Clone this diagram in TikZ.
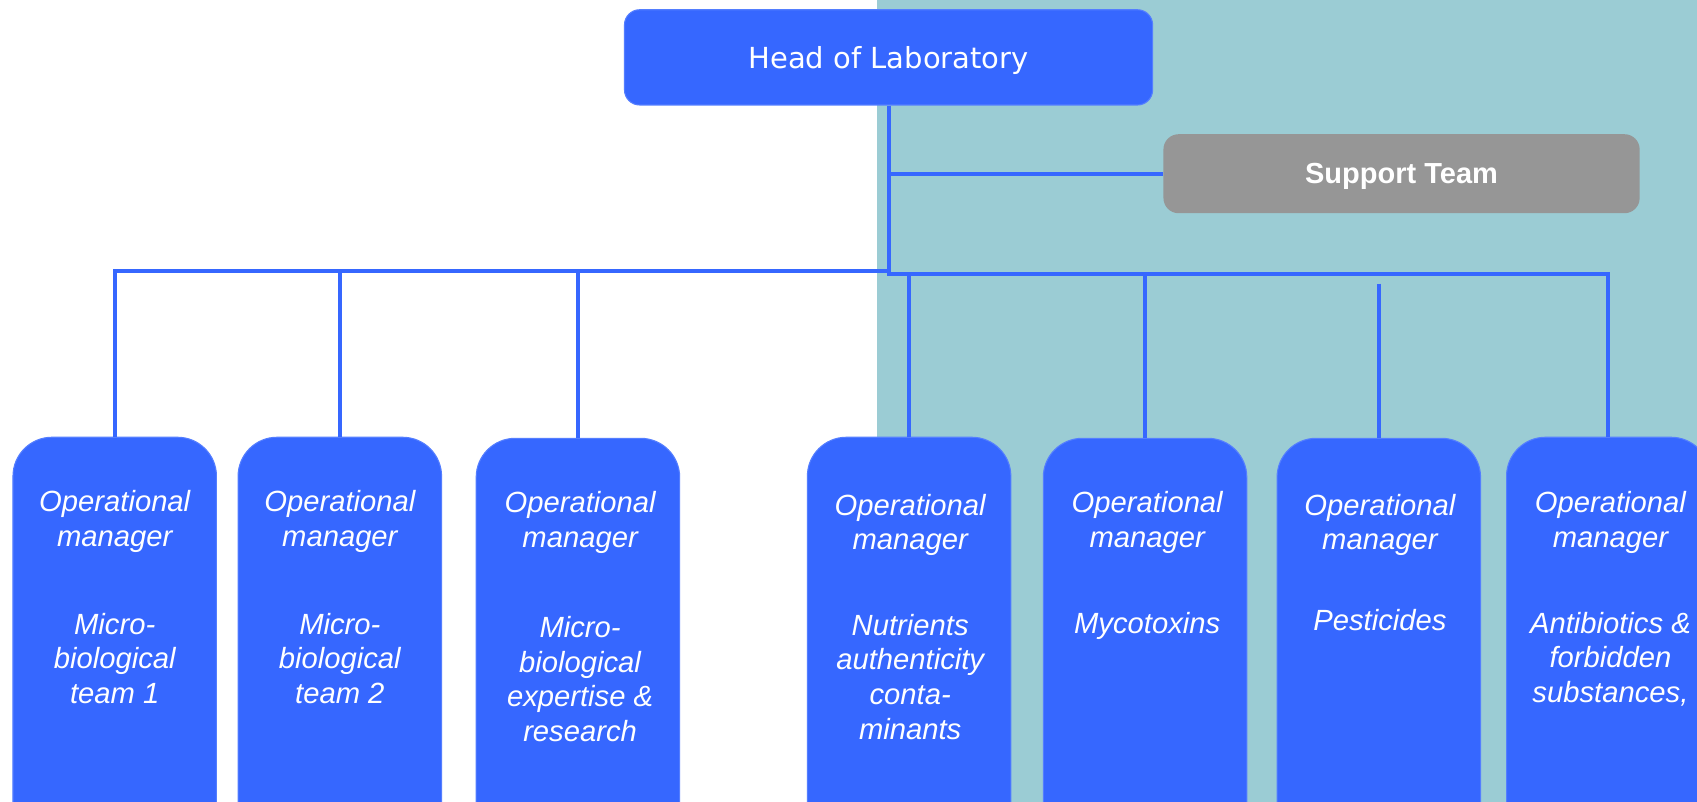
\documentclass[tikz,border=0pt]{standalone}
\usepackage{fontspec}
\setmainfont{Liberation Sans}
\newfontfamily\headfont{DejaVu Sans}
\definecolor{labblue}{RGB}{54,103,255}
\definecolor{labteal}{RGB}{155,204,212}
\definecolor{labgray}{RGB}{150,150,150}
\begin{document}
\begin{tikzpicture}[x=0.5pt,y=-0.5pt,
  conn/.style={draw=labblue,line width=1.9pt},
  headbox/.style={fill=labblue,draw=labblue!85!white,line width=0.5pt,rounded corners=7pt,
    minimum width=244pt,minimum height=44pt,text=white,inner sep=0pt,text depth=0pt,
    font=\headfont\fontsize{13.4}{16}\selectfont},
  supbox/.style={fill=labgray,rounded corners=7pt,minimum width=220pt,minimum height=36.5pt,
    text=white,inner sep=0pt,text depth=0pt,font=\bfseries\fontsize{13.4}{16}\selectfont},
  unitbox/.style={fill=labblue,draw=labblue!85!white,line width=0.5pt,rounded corners=18pt,
    minimum width=94pt,minimum height=188pt,inner sep=0pt},
  unittext/.style={text=white,font=\itshape\fontsize{13.5}{16}\selectfont,align=center,
    anchor=north,inner sep=0pt}]
\useasboundingbox (0,0) rectangle (1568,741);
\clip (0,0) rectangle (1568,741);
\fill[white] (0,0) rectangle (810,741);
\fill[labteal] (810,0) rectangle (1568,741);

% boxes
\node[headbox] (head) at (821,53) {Head of Laboratory};
\node[supbox] (sup) at (1295,160.5) {Support Team};
\node[unitbox] (b1) at (106,592) {};
\node[unitbox] (b2) at (314,592) {};
\node[unitbox] (b3) at (534,593) {};
\node[unitbox] (b4) at (840,592) {};
\node[unitbox] (b5) at (1058,593) {};
\node[unitbox] (b6) at (1274,593) {};
\node[unitbox] (b7) at (1486,592) {};

% connectors
\coordinate (j) at (821,250);
\coordinate (jr) at (821,253);
\coordinate (p6) at (1274,262);
\draw[conn] (head.south) -- (j);
\draw[conn] (head.south |- sup.west) -- (sup.west);
\draw[conn] (j) -- (b1.north |- j) -- (b1.north);
\draw[conn] (b2.north |- j) -- (b2.north);
\draw[conn] (b3.north |- j) -- (b3.north);
\draw[conn] (j) -- (jr) -- (b7.north |- jr) -- (b7.north);
\draw[conn] (b4.north |- jr) -- (b4.north);
\draw[conn] (b5.north |- jr) -- (b5.north);
\draw[conn] (p6) -- (b6.north);

% texts
\node[unittext] (t1) at (106,453) {Operational\\manager\\[24.5pt]Micro-\\biological\\team 1};
\node[unittext] (t2) at (314,453) {Operational\\manager\\[24.5pt]Micro-\\biological\\team 2};
\node[unittext] (t3) at (536,454) {Operational\\manager\\[25.5pt]Micro-\\biological\\expertise \&\\research};
\node[unittext] (t4) at (841,456) {Operational\\manager\\[23.5pt]Nutrients\\authenticity\\conta-\\minants};
\node[unittext] (t5) at (1060,454) {Operational\\manager\\[23.5pt]Mycotoxins};
\node[unittext] (t6) at (1275,456) {Operational\\manager\\[21.5pt]Pesticides};
\node[unittext] (t7) at (1488,454) {Operational\\manager\\[23.5pt]Antibiotics \&\\forbidden\\substances,};
\end{tikzpicture}
\end{document}
